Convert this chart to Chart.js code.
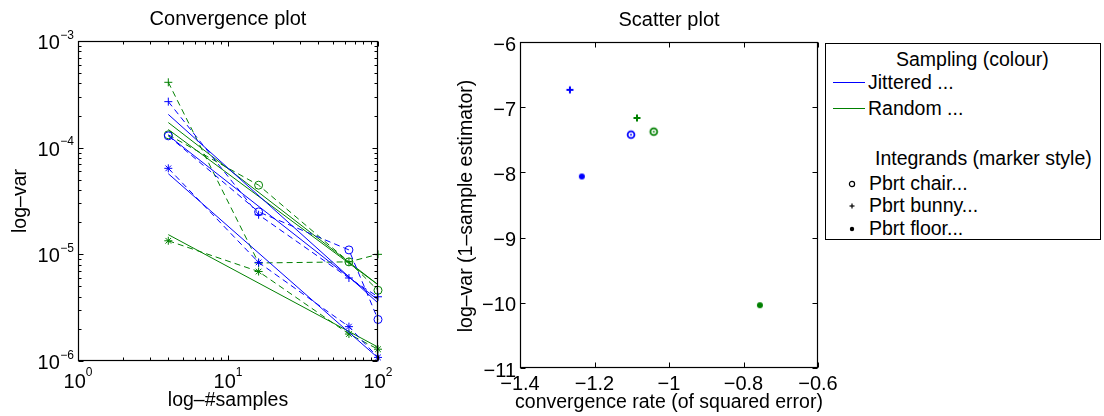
<!DOCTYPE html>
<html><head><meta charset="utf-8">
<script src="https://cdn.jsdelivr.net/npm/chart.js@4/dist/chart.umd.min.js"></script>
<style>
html,body{margin:0;padding:0;background:#fff;}
body{width:1104px;height:416px;position:relative;overflow:hidden;font-family:"Liberation Sans",Arial,sans-serif;}
#c1{position:absolute;left:0;top:0;}
#c2{position:absolute;left:420px;top:0;}
#legend{position:absolute;left:825px;top:43px;width:276px;height:197px;border:1px solid #000;box-sizing:border-box;background:#fff;font-size:19.5px;color:#000;}
.lg{position:absolute;white-space:nowrap;line-height:19px;}
.ln{position:absolute;height:1px;width:32px;left:7px;}
.mk{position:absolute;}
</style></head><body>
<canvas id="c1" width="420" height="416"></canvas>
<canvas id="c2" width="684" height="416"></canvas>
<div id="legend"></div>
<script>
// ---------- data ----------
const samples = [4, 16, 64, 100];
const fitSamples = [4, 100];
const jitteredChair = [1.29e-4, 2.5e-5, 1.1e-5, 2.45e-6];
const jitteredBunny = [2.7e-4, 2.35e-5, 6.0e-6, 4.0e-6];
const jitteredFloor = [6.4e-5, 8.4e-6, 2.1e-6, 1.08e-6];
const randomChair = [1.32e-4, 4.45e-5, 8.5e-6, 4.6e-6];
const randomBunny = [4.1e-4, 8.3e-6, 8.5e-6, 1.0e-5];
const randomFloor = [1.34e-5, 6.9e-6, 1.79e-6, 1.29e-6];
const jitteredChairFit = [1.30e-4, 3.74e-6];
const jitteredBunnyFit = [2.05e-4, 3.5e-6];
const jitteredFloorFit = [5.7e-5, 1.07e-6];
const randomChairFit = [1.48e-4, 5.19e-6];
const randomBunnyFit = [1.72e-4, 5.2e-6];
const randomFloorFit = [1.53e-5, 1.35e-6];
// scatter: chair, bunny, floor
const rateJittered = [-1.102, -1.266, -1.234];
const logVarJittered = [-7.421, -6.734, -8.062];
const rateRandom = [-1.041, -1.086, -0.756];
const logVarRandom = [-7.375, -7.165, -10.037];
const samplingNames = ['Jittered ...', 'Random ...'];
const integrandNames = ['Pbrt chair...', 'Pbrt bunny...', 'Pbrt floor...'];
// ticks
const convXTicks = [1, 10, 100];
const convXTickExp = ['0', '1', '2'];
const convYTicks = [1e-6, 1e-5, 1e-4, 1e-3];
const convYTickExp = ['\u22126', '\u22125', '\u22124', '\u22123'];
const scatXTicks = [-1.4, -1.2, -1, -0.8, -0.6];
const scatXTickLabels = ['\u22121.4', '\u22121.2', '\u22121', '\u22120.8', '\u22120.6'];
const scatYTicks = [-11, -10, -9, -8, -7, -6];
const scatYTickLabels = ['\u221211', '\u221210', '\u22129', '\u22128', '\u22127', '\u22126'];

// ---------- styles ----------
const BLUE = '#0000ff', GREEN = '#008000';
const FONT = '"Liberation Sans", Arial, sans-serif';
const DASH = [6, 4];

function pts(xs, ys) { return xs.map((x, i) => ({x: x, y: ys[i]})); }

function dataSet(vals, color, style) {
  return {data: pts(samples, vals), showLine: true, borderColor: color, borderWidth: 1,
    borderDash: DASH, pointStyle: style, pointRadius: 4, pointBorderWidth: 1,
    pointBorderColor: color, pointBackgroundColor: 'rgba(0,0,0,0)', clip: false, order: 0};
}
function fitSet(vals, color) {
  return {data: pts(fitSamples, vals), showLine: true, borderColor: color, borderWidth: 1,
    pointRadius: 0, clip: false};
}

function line(ctx, x1, y1, x2, y2) { ctx.beginPath(); ctx.moveTo(x1, y1); ctx.lineTo(x2, y2); ctx.stroke(); }

function frameTicks(chart, xMaj, xMin, yMaj, yMin, majLen, minLen) {
  const ctx = chart.ctx, a = chart.chartArea, xs = chart.scales.x, ys = chart.scales.y;
  ctx.save();
  ctx.strokeStyle = '#000'; ctx.lineWidth = 1;
  const L = Math.round(a.left) + 0.5, R = Math.round(a.right) - 0.5;
  const T = Math.round(a.top) + 0.5, B = Math.round(a.bottom) - 0.5;
  const tx = (v, len) => { const p = Math.round(xs.getPixelForValue(v)) + 0.5; line(ctx, p, B, p, B - len); line(ctx, p, T, p, T + len); };
  const ty = (v, len) => { const p = Math.round(ys.getPixelForValue(v)) + 0.5; line(ctx, L, p, L + len, p); line(ctx, R, p, R - len, p); };
  xMaj.forEach(v => tx(v, majLen)); xMin.forEach(v => tx(v, minLen));
  yMaj.forEach(v => ty(v, majLen)); yMin.forEach(v => ty(v, minLen));
  ctx.lineWidth = 1.2;
  ctx.strokeRect(L, T, R - L, B - T);
  ctx.restore();
}
function logMinor(majors) {
  const out = [];
  for (let i = 0; i < majors.length - 1; i++) for (let k = 2; k <= 9; k++) out.push(majors[i] * k);
  return out;
}
function rotText(ctx, txt, cx, cy) {
  ctx.save(); ctx.translate(cx, cy); ctx.rotate(-Math.PI / 2);
  ctx.textAlign = 'center'; ctx.textBaseline = 'middle'; ctx.fillText(txt, 0, 0); ctx.restore();
}

const baseScale = (type, min, max, isX) => ({
  type: type, min: min, max: max, display: true,
  ticks: {display: false}, grid: {display: false, drawTicks: false}, border: {display: false},
  title: {display: false},
  afterFit: s => { if (isX) s.height = 0; else s.width = 0; }
});

// ---------- convergence plot ----------
const convDecor = {
  id: 'convDecor',
  afterDraw(chart) {
    const ctx = chart.ctx, a = chart.chartArea, xs = chart.scales.x, ys = chart.scales.y;
    frameTicks(chart, convXTicks, logMinor(convXTicks), convYTicks, logMinor(convYTicks), 5, 3);
    ctx.save();
    ctx.fillStyle = '#000';
    ctx.textBaseline = 'alphabetic';
    convXTicks.forEach((v, i) => {
      const px = xs.getPixelForValue(v);
      ctx.font = '20px ' + FONT; const wb = ctx.measureText('10').width;
      ctx.font = '12px ' + FONT; const we = ctx.measureText(convXTickExp[i]).width;
      const s = px - (wb + we) / 2;
      ctx.font = '20px ' + FONT; ctx.textAlign = 'left'; ctx.fillText('10', s, 388);
      ctx.font = '12px ' + FONT; ctx.fillText(convXTickExp[i], s + wb, 376);
    });
    convYTicks.forEach((v, i) => {
      const py = ys.getPixelForValue(v);
      const right = a.left - 4;
      ctx.font = '12px ' + FONT; const we = ctx.measureText(convYTickExp[i]).width;
      ctx.textAlign = 'left'; ctx.fillText(convYTickExp[i], right - we, py - 2.5);
      ctx.font = '20px ' + FONT; ctx.textAlign = 'right'; ctx.fillText('10', right - we - 0.5, py + 8);
    });
    ctx.textAlign = 'center';
    ctx.font = '20px ' + FONT; ctx.fillText('Convergence plot', (a.left + a.right) / 2, 25);
    ctx.font = '19.5px ' + FONT; ctx.fillText('log\u2013#samples', (a.left + a.right) / 2, 406);
    rotText(ctx, 'log\u2013var', 21, (a.top + a.bottom) / 2);
    ctx.restore();
  }
};

new Chart(document.getElementById('c1'), {
  type: 'scatter',
  data: {datasets: [
    dataSet(jitteredChair, BLUE, 'circle'), fitSet(jitteredChairFit, BLUE),
    dataSet(jitteredBunny, BLUE, 'cross'), fitSet(jitteredBunnyFit, BLUE),
    dataSet(jitteredFloor, BLUE, 'star'), fitSet(jitteredFloorFit, BLUE),
    dataSet(randomChair, GREEN, 'circle'), fitSet(randomChairFit, GREEN),
    dataSet(randomBunny, GREEN, 'cross'), fitSet(randomBunnyFit, GREEN),
    dataSet(randomFloor, GREEN, 'star'), fitSet(randomFloorFit, GREEN)
  ]},
  options: {
    responsive: false, animation: false, devicePixelRatio: 1,
    layout: {padding: {left: 78, top: 41, right: 42, bottom: 55}},
    plugins: {legend: {display: false}, tooltip: {enabled: false}, title: {display: false}},
    scales: {x: baseScale('logarithmic', 1, 100, true), y: baseScale('logarithmic', 1e-6, 1e-3, false)}
  },
  plugins: [convDecor]
});

// ---------- scatter plot ----------
function marker(kind, color) {
  const c = document.createElement('canvas'); c.width = 12; c.height = 12;
  const g = c.getContext('2d');
  g.strokeStyle = color; g.fillStyle = color;
  if (kind === 'ring') {
    g.lineWidth = 1.8; g.beginPath(); g.arc(6, 6, 3.4, 0, Math.PI * 2); g.stroke();
    g.beginPath(); g.arc(6, 6, 0.9, 0, Math.PI * 2); g.fill();
  } else if (kind === 'plus') {
    g.lineWidth = 2; line(g, 2.5, 6, 9.5, 6); line(g, 6, 2.5, 6, 9.5);
  } else {
    g.beginPath(); g.arc(6, 6, 3, 0, Math.PI * 2); g.fill();
  }
  return c;
}
const markerKinds = ['ring', 'plus', 'dot'];
function scatterSets(rates, vars, color) {
  return rates.map((r, i) => ({data: [{x: r, y: vars[i]}], pointStyle: marker(markerKinds[i], color),
    pointRadius: 6, clip: false}));
}

const scatDecor = {
  id: 'scatDecor',
  afterDraw(chart) {
    const ctx = chart.ctx, a = chart.chartArea, xs = chart.scales.x, ys = chart.scales.y;
    frameTicks(chart, scatXTicks, [], scatYTicks, [], 5, 3);
    ctx.save();
    ctx.fillStyle = '#000';
    ctx.font = '20px ' + FONT;
    ctx.textBaseline = 'alphabetic';
    ctx.textAlign = 'center';
    scatXTicks.forEach((v, i) => ctx.fillText(scatXTickLabels[i], xs.getPixelForValue(v), 390));
    ctx.textAlign = 'right';
    scatYTicks.forEach((v, i) => ctx.fillText(scatYTickLabels[i], a.left - 4, ys.getPixelForValue(v) + 8.5));
    ctx.textAlign = 'center';
    ctx.fillText('Scatter plot', (a.left + a.right) / 2, 26);
    ctx.font = '19.5px ' + FONT;
    ctx.fillText('convergence rate (of squared error)', (a.left + a.right) / 2, 408);
    rotText(ctx, 'log\u2013var (1\u2013sample estimator)', 47, 206);
    ctx.restore();
  }
};

new Chart(document.getElementById('c2'), {
  type: 'scatter',
  data: {datasets: scatterSets(rateJittered, logVarJittered, BLUE).concat(scatterSets(rateRandom, logVarRandom, GREEN))},
  options: {
    responsive: false, animation: false, devicePixelRatio: 1,
    layout: {padding: {left: 100, top: 42, right: 286, bottom: 48}},
    plugins: {legend: {display: false}, tooltip: {enabled: false}, title: {display: false}},
    scales: {x: baseScale('linear', -1.4, -0.6, true), y: baseScale('linear', -11, -6, false)}
  },
  plugins: [scatDecor]
});

// ---------- legend (HTML) ----------
(function () {
  const lg = document.getElementById('legend');
  const add = (html) => { lg.insertAdjacentHTML('beforeend', html); };
  add('<div class="lg" style="left:70px;top:6px">Sampling (colour)</div>');
  const colors = [BLUE, GREEN];
  const lineTops = [38, 64], textTops = [29, 55];
  samplingNames.forEach((n, i) => {
    add('<div class="ln" style="top:' + lineTops[i] + 'px;background:' + colors[i] + '"></div>');
    add('<div class="lg" style="left:42px;top:' + textTops[i] + 'px">' + n + '</div>');
  });
  add('<div class="lg" style="left:49px;top:105px">Integrands (marker style)</div>');
  const mTops = [140, 161.5, 185], tTops = [130, 151.5, 175];
  const svgs = [
    '<svg width="8" height="8"><circle cx="4" cy="4" r="2.6" fill="none" stroke="#000" stroke-width="1.2"/></svg>',
    '<svg width="8" height="8"><line x1="1.5" y1="4" x2="6.5" y2="4" stroke="#000" stroke-width="1.2"/><line x1="4" y1="1.5" x2="4" y2="6.5" stroke="#000" stroke-width="1.2"/></svg>',
    '<svg width="8" height="8"><circle cx="4" cy="4" r="2.2" fill="#000"/></svg>'
  ];
  integrandNames.forEach((n, i) => {
    add('<div class="mk" style="left:' + (26 - 4) + 'px;top:' + (mTops[i] - 4) + 'px;width:8px;height:8px;line-height:0">' + svgs[i] + '</div>');
    add('<div class="lg" style="left:43px;top:' + tTops[i] + 'px">' + n + '</div>');
  });
})();
</script>
</body></html>
